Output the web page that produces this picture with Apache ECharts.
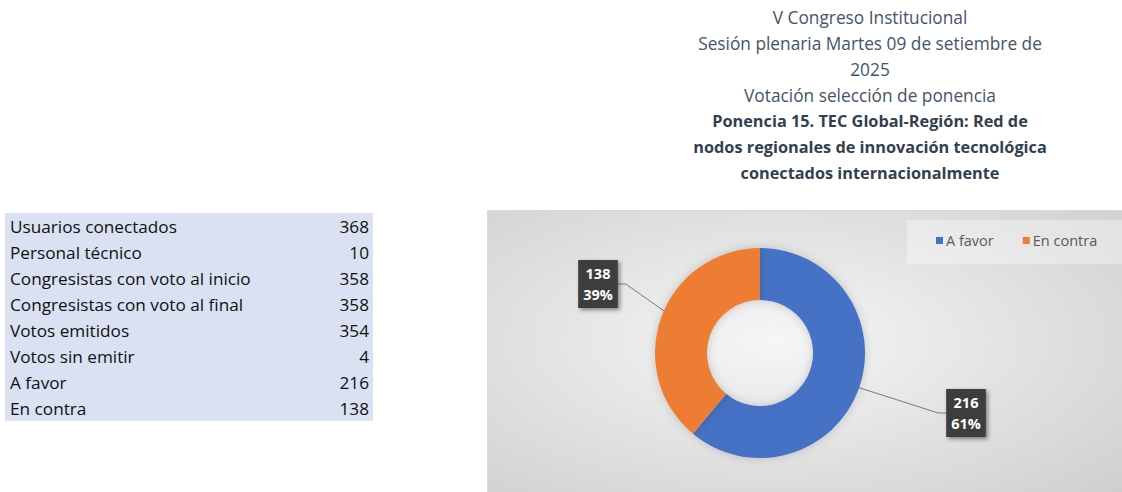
<!DOCTYPE html>
<html>
<head>
<meta charset="utf-8">
<script src="https://cdn.jsdelivr.net/npm/echarts@6/dist/echarts.min.js"></script>
<style>
  html, body { margin: 0; padding: 0; background: #fff; }
  #main { position: absolute; left: 0; top: 0; width: 1122px; height: 492px; }
  #tabla {
    position: absolute; left: 5px; top: 213px; width: 368px;
    background: #D9E1F2; border-collapse: collapse;
    font-family: "Open Sans", sans-serif; font-size: 17.2px; color: #111;
  }
  #tabla td { height: 26px; padding: 0 4px 0 5px; line-height: 26px; white-space: nowrap; position: relative; top: 1px; }
  #tabla td.v { text-align: right; }
</style>
</head>
<body>
<div id="main"></div>
<table id="tabla"></table>
<script>
const titleLines = [
  'V Congreso Institucional',
  'Sesión plenaria Martes 09 de setiembre de',
  '2025',
  'Votación selección de ponencia'
];
const titleBold = [
  'Ponencia 15. TEC Global-Región: Red de',
  'nodos regionales de innovación tecnológica',
  'conectados internacionalmente'
];
const tableLabels = ['Usuarios conectados', 'Personal técnico', 'Congresistas con voto al inicio',
  'Congresistas con voto al final', 'Votos emitidos', 'Votos sin emitir', 'A favor', 'En contra'];
const tableValues = [368, 10, 358, 358, 354, 4, 216, 138];
const voteNames = ['A favor', 'En contra'];
const voteValues = [216, 138];
const voteColors = ['#4472C4', '#ED7D31'];

// tabla de la izquierda
let filas = '';
tableLabels.forEach((l, i) => {
  filas += '<tr><td>' + l + '</td><td class="v">' + tableValues[i] + '</td></tr>';
});
document.getElementById('tabla').innerHTML = filas;

const cx = 760, cy = 353, rIn = 53, rOut = 105;
const boxOffset = [[206, 60], [-162, -69]]; // posicion de las etiquetas respecto al centro
const total = voteValues.reduce((a, b) => a + b, 0);

const myChart = echarts.init(document.getElementById('main'), null, { renderer: 'svg' });

const titleText = titleLines.map(t => '{n|' + t + '}').concat(titleBold.map(t => '{b|' + t + '}')).join('\n');

const option = {
  animation: false,
  textStyle: { fontFamily: '"Open Sans", sans-serif' },
  title: {
    text: titleText,
    left: 870,
    top: 4,
    padding: 0,
    textAlign: 'center',
    textStyle: {
      fontWeight: 'normal',
      rich: {
        n: { fontSize: 17.3, color: '#44546A', lineHeight: 26, fontWeight: 'normal', fontFamily: '"Open Sans", sans-serif' },
        b: { fontSize: 16.3, color: '#323F4F', lineHeight: 26, fontWeight: 'bold', fontFamily: '"Open Sans", sans-serif' }
      }
    }
  },
  graphic: [{
    type: 'rect',
    left: 487, top: 210, z: -10,
    shape: { width: 640, height: 290 },
    style: {
      fill: new echarts.graphic.RadialGradient(0.45, 0.45, 0.75, [
        { offset: 0, color: '#f6f6f6' },
        { offset: 1, color: '#cfcfcf' }
      ]),
      stroke: '#d9d9d9', lineWidth: 1
    }
  }, {
    // fondo claro de la leyenda
    type: 'rect',
    left: 907, top: 220, z: -5,
    shape: { width: 220, height: 44 },
    style: { fill: 'rgba(255,255,255,0.35)' }
  }],
  legend: {
    data: voteNames,
    orient: 'horizontal',
    left: 936, top: 233,
    width: 185,
    padding: 0,
    itemWidth: 7, itemHeight: 7, itemGap: 29,
    icon: 'rect',
    textStyle: { fontSize: 14.5, color: '#595959', padding: [0, 0, 0, -2] }
  },
  series: [{
    type: 'pie',
    center: [cx, cy],
    radius: [rIn, rOut],
    startAngle: 90,
    clockwise: true,
    percentPrecision: 0,
    avoidLabelOverlap: false,
    data: voteNames.map((n, i) => ({ name: n, value: voteValues[i], itemStyle: { color: voteColors[i] } })),
    itemStyle: { shadowBlur: 10, shadowColor: 'rgba(0,0,0,0.18)' },
    label: {
      show: true,
      position: 'outside',
      formatter: '{c}\n{d}%',
      color: '#fff',
      fontWeight: 'bold',
      fontSize: 14.5,
      lineHeight: 21,
      align: 'center',
      backgroundColor: '#3d3d3d',
      padding: [3, 5],
      shadowBlur: 4,
      shadowColor: 'rgba(0,0,0,0.45)',
      shadowOffsetX: 2,
      shadowOffsetY: 2
    },
    labelLine: {
      show: true,
      lineStyle: { color: '#7a7a7a', width: 1 }
    },
    labelLayout: function (params) {
      const i = params.dataIndex;
      let before = 0;
      for (let k = 0; k < i; k++) before += voteValues[k];
      const mid = (before + voteValues[i] / 2) / total * Math.PI * 2;
      const rm = (rIn + rOut) / 2;
      const ax = cx + Math.sin(mid) * rm, ay = cy - Math.cos(mid) * rm;
      const bx = cx + boxOffset[i][0], by = cy + boxOffset[i][1];
      const half = params.labelRect.width / 2;
      const side = boxOffset[i][0] > 0 ? -1 : 1;
      const ex = bx + side * half;
      return {
        x: bx, y: by,
        align: 'center', verticalAlign: 'middle',
        labelLinePoints: [[ax, ay], [ex + side * 8, by], [ex, by]]
      };
    }
  }]
};
myChart.setOption(option);
</script>
</body>
</html>
